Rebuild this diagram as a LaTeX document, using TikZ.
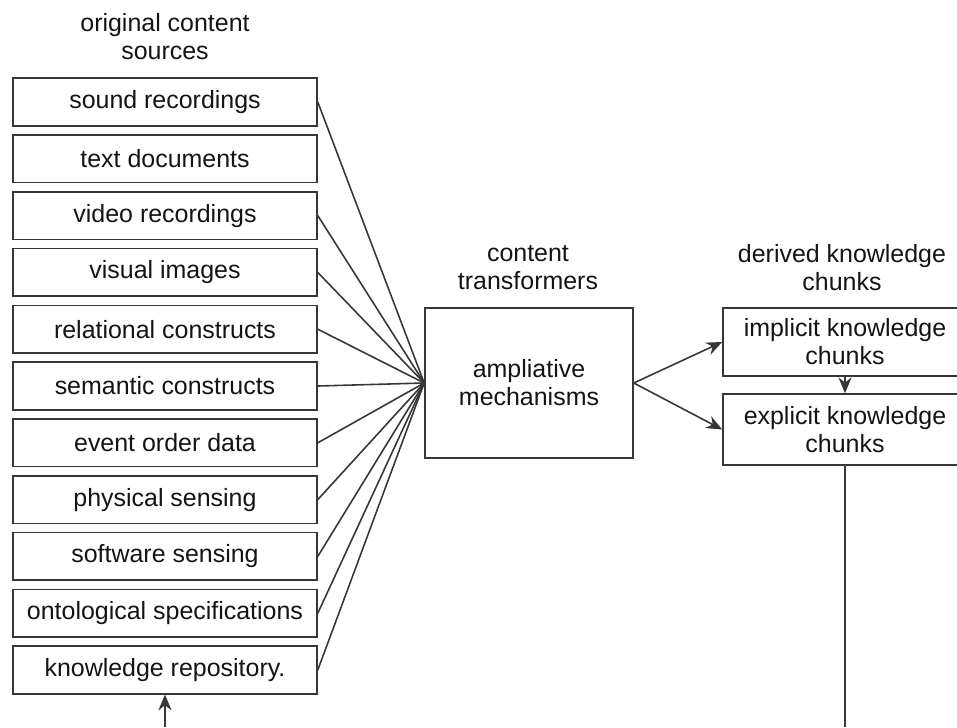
\documentclass[tikz,border=0pt]{standalone}
\usepackage{fontspec}
\setmainfont{Liberation Sans}
\usepackage{tikz}
\usetikzlibrary{arrows.meta,positioning}
\usepackage{xcolor}
\definecolor{kgline}{RGB}{55,55,55}
\definecolor{kgtext}{RGB}{20,20,20}
\tikzstyle{srcbox} = [draw=kgline, line width=0.9pt, minimum width=6.08cm, minimum height=0.95cm, inner sep=0pt, text=kgtext]
\tikzstyle{chunkbox} = [draw=kgline, line width=0.9pt, minimum width=4.88cm, inner sep=0pt, align=center, text=kgtext]
\tikzstyle{heading} = [align=center, text=kgtext]
\tikzstyle{feed} = [kgline, line width=0.9pt]
\tikzstyle{arrow} = [kgline, line width=0.9pt, -{Stealth[length=9pt,width=7.5pt]}]

\begin{document}
\begin{tikzpicture}[font=\fontsize{14.2}{15.9}\selectfont]
\useasboundingbox (0,0) rectangle (19.14,-14.54);

% Original sources
\node[heading] (srchead) at (3.3,-0.74) {original content\\sources};
\foreach \i/\txt in {1/sound recordings, 2/text documents, 3/video recordings,
  4/visual images, 5/relational constructs, 6/semantic constructs,
  7/event order data, 8/physical sensing, 9/software sensing,
  10/ontological specifications, 11/knowledge repository.}
  \node[srcbox] (src\i) at (3.3,{-2.04-1.136*(\i-1)}) {\txt};

% Transformer
\node[heading] (amphead) at (10.56,-5.36) {content\\transformers};
\node[draw=kgline, line width=0.9pt, minimum width=4.16cm, minimum height=3cm, align=center, text=kgtext] (amp) at (10.58,-7.66) {ampliative\\mechanisms};
\foreach \i in {1,3,4,5,6,7,8,9,10,11}
  \draw[feed] (src\i.east) -- (amp.west);

% Derived chunks
\node[heading] (chunkhead) at (16.84,-5.36) {derived knowledge\\chunks};
\node[chunkbox, minimum height=1.36cm] (impl) at (16.9,-6.84) {implicit knowledge\\chunks};
\node[chunkbox, minimum height=1.42cm] (expl) at (16.9,-8.59) {explicit knowledge\\chunks};
\draw[arrow] (amp.east) -- (impl.west);
\draw[arrow] (amp.east) -- (expl.west);
\draw[arrow] (impl.south) -- (expl.north);

% Loop back
\coordinate (down) at (16.9,-14.54);
\coordinate (up) at (3.3,-14.54);
\draw[feed] (expl.south) -- (down);
\draw[arrow] (up) -- (src11.south);
\end{tikzpicture}
\end{document}
